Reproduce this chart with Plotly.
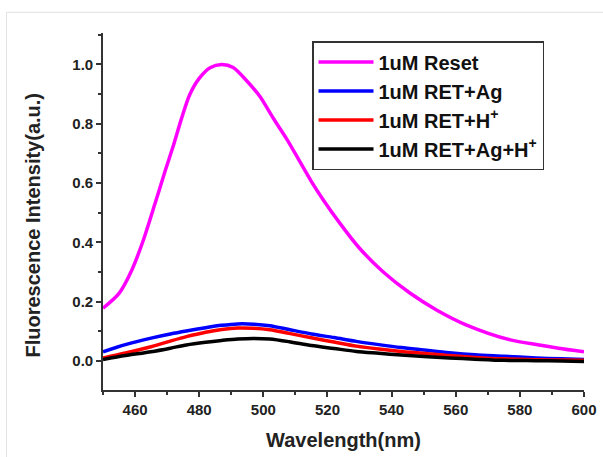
import plotly.graph_objects as go

# ---- data ----
wl_reset = [450, 455, 459, 462.6, 466.2, 469.3, 472, 474.5, 477, 480, 483.4, 487, 490.6,
            494.8, 499, 503, 507.5, 511.4, 515, 518.7, 523.9, 530, 537.4, 545.7, 554, 563.4,
            577, 586, 592, 600]
reset = [0.178, 0.228, 0.307, 0.408, 0.530, 0.638, 0.728, 0.818, 0.897, 0.953, 0.989, 1.0,
         0.990, 0.945, 0.891, 0.820, 0.745, 0.672, 0.605, 0.543, 0.464, 0.380, 0.300, 0.229,
         0.172, 0.121, 0.071, 0.054, 0.043, 0.031]

wl = [450, 457, 465, 471, 476, 482, 487, 492, 497, 502, 508, 515, 522, 529, 536, 543,
      550, 558, 566, 575, 585, 593, 600]
ret_ag = [0.031, 0.055, 0.077, 0.091, 0.101, 0.112, 0.120, 0.125, 0.124, 0.119, 0.106,
          0.091, 0.079, 0.066, 0.055, 0.045, 0.037, 0.028, 0.021, 0.016, 0.010, 0.007, 0.005]
ret_h = [0.010, 0.027, 0.048, 0.067, 0.082, 0.097, 0.106, 0.111, 0.110, 0.105, 0.093,
         0.078, 0.064, 0.050, 0.040, 0.032, 0.026, 0.018, 0.012, 0.007, 0.004, 0.003, 0.002]
ret_ag_h = [0.005, 0.018, 0.031, 0.043, 0.054, 0.063, 0.069, 0.074, 0.076, 0.074, 0.065,
            0.052, 0.042, 0.032, 0.026, 0.020, 0.015, 0.010, 0.006, 0.002, 0.001, 0.000, -0.002]

names = ["<b>1uM Reset</b>", "<b>1uM RET+Ag</b>", "<b>1uM RET+H<sup>+</sup></b>",
         "<b>1uM RET+Ag+H<sup>+</sup></b>"]
colors = ["#ff00ff", "#0000ff", "#ff0000", "#000000"]

FONT = "Arial, Liberation Sans, sans-serif"

fig = go.Figure()
series = [(wl_reset, reset), (wl, ret_ag), (wl, ret_h), (wl, ret_ag_h)]
for i, ((xs, ys), nm, c) in enumerate(zip(series, names, colors)):
    fig.add_trace(go.Scatter(x=xs, y=ys, mode="lines", name=nm,
                             line=dict(color=c, width=3.5, shape="spline", smoothing=0.8),
                             legendgroup=f"g{i}"))

axis_common = dict(showline=True, linecolor="#333333", linewidth=1.6,
                   ticks="outside", tickcolor="#333333", tickwidth=1.5,
                   showgrid=False, zeroline=False, mirror=False,
                   tickfont=dict(family=FONT, size=15, color="#222222", weight="bold"))

fig.update_xaxes(range=[450, 600], tick0=460, dtick=20, ticklen=5,
                 minor=dict(dtick=10, tick0=450, ticklen=3, ticks="outside",
                            tickcolor="#333333", tickwidth=1.5),
                 title=dict(text="<b>Wavelength(nm)</b>", standoff=16,
                            font=dict(family=FONT, size=20, color="#222222")),
                 **axis_common)
fig.update_yaxes(range=[-0.098, 1.106], tick0=0, dtick=0.2, tickformat=".1f", ticklen=5,
                 minor=dict(dtick=0.1, tick0=0, ticklen=3, ticks="outside",
                            tickcolor="#333333", tickwidth=1.5),
                 **axis_common)

fig.add_annotation(text="<b>Fluorescence Intensity(a.u.)</b>", textangle=-90,
                   xref="paper", yref="paper", x=(32.5 - 103) / 481, y=(390 - 225) / 357,
                   xanchor="center", yanchor="middle", showarrow=False,
                   font=dict(family=FONT, size=20, color="#222222"))

fig.add_shape(type="rect", xref="paper", yref="paper", layer="below",
              x0=(6.5 - 103) / 481, x1=(640 - 103) / 481,
              y0=(390 - 480) / 357, y1=(390 - 12.3) / 357,
              line=dict(color="#e2e2e2", width=1))

fig.update_layout(
    width=603, height=457,
    margin=dict(l=103, r=19, t=33, b=67, autoexpand=False),
    paper_bgcolor="white", plot_bgcolor="white",
    showlegend=True,
    legend=dict(x=(312 - 103) / 481, y=(390 - 41) / 357, xanchor="left", yanchor="top",
                bgcolor="white", bordercolor="#333333", borderwidth=1.5,
                font=dict(family=FONT, size=20, color="#111111"),
                traceorder="grouped", tracegroupgap=0, itemwidth=55),
)

fig.write_html("out.html", config={"displayModeBar": False},
               post_script="document.body.style.margin='0';")
